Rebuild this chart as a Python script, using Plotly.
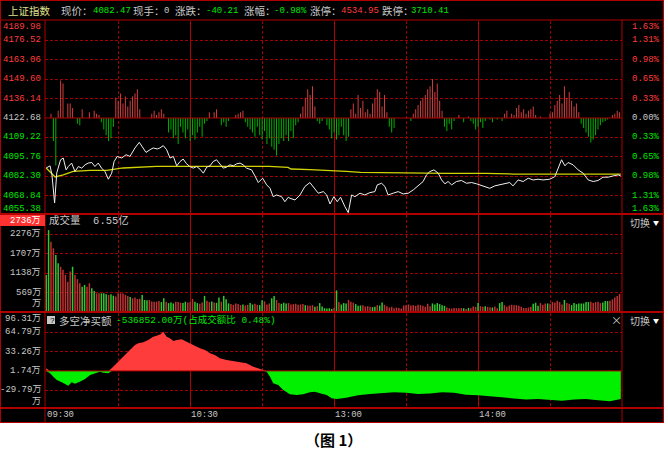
import plotly.graph_objects as go

W, H = 668, 464
PREV_CLOSE = 4122.68
NET_BASE = 1.74

# ---------------- data ----------------
main_ticks = [4189.98, 4176.52, 4163.06, 4149.60, 4136.14, 4122.68,
              4109.22, 4095.76, 4082.30, 4068.84, 4055.38]
pct_labels = ["1.63%", "1.31%", "0.98%", "0.65%", "0.33%", "0.00%",
              "0.33%", "0.65%", "0.98%", "1.31%", "1.63%"]
vol_ticks = [2276, 1707, 1138, 569]
vol_max_label = "2736万"
net_ticks = [96.31, 64.79, 33.26, 1.74, -29.79]
time_labels = ["09:30", "10:30", "13:00", "14:00"]
time_pos = [0, 60, 120, 180]

price_min = [0, 1.6, 2.4, 3.5, 4.4, 6, 7.1, 8.3, 9.2, 10.6, 12, 13.4, 14.8, 16.2, 17.5, 19, 20.3,
             21.7, 23.1, 24.5, 25.9, 27.3, 28.3, 29.6, 31.5, 33.3, 34.9, 37, 38.8, 40.2, 41.6,
             43.3, 44.6, 46.3, 47.4, 48.8, 50.2, 51.6, 53, 54.4, 55.8, 57.1, 58.5, 59.9, 61.3,
             62.7, 64.1, 65.5, 66.9, 68.3, 69.6, 71, 72.4, 73.8, 75.2, 76.6, 78, 79.4, 80.8,
             82.1, 83.5, 85.6, 87, 88.4, 90.2, 91.9, 93.3, 94.6, 96, 98.1, 99.5, 100.9, 101.6,
             103.7, 105.8, 107.8, 109.9, 111.3, 113.4, 115.5, 116.9, 118.3, 119.9, 121.3,
             122.7, 124.5, 125.9, 127.3, 128.7, 130.8, 132.8, 134.9, 137, 138, 139.8, 141.2,
             142.5, 144.6, 146.7, 148.8, 150.9, 153, 155, 157.1, 158.5, 159.9, 161.6, 163.4,
             164.8, 166.2, 167.5, 169, 171, 173.1, 175.2, 177.3, 179.4, 182.1, 184.9, 187,
             189.1, 191.2, 193.2, 194.6, 196.7, 198.8, 200.9, 203, 205, 207.1, 209.9, 212,
             213.4, 214.8, 216.2, 217.5, 219.6, 221.7, 223.8, 225.9, 228, 230, 232.1, 234.2,
             236.3, 238.4, 239.5]
price_val = [4088.0, 4089.5, 4083.2, 4063.7, 4084.6, 4093.7, 4094.9, 4086.7, 4089.0, 4091.4,
             4085.5, 4089.0, 4087.9, 4090.2, 4091.4, 4091.8, 4089.0, 4091.4, 4087.9, 4085.5,
             4080.2, 4084.4, 4092.5, 4096.0, 4094.9, 4097.2, 4096.0, 4101.9, 4105.8, 4102.5,
             4098.8, 4100.7, 4101.9, 4101.2, 4101.9, 4103.5, 4100.7, 4094.9, 4096.0, 4089.5,
             4092.5, 4094.2, 4090.9, 4089.0, 4087.9, 4089.0, 4087.2, 4084.4, 4088.6, 4089.5,
             4092.5, 4093.7, 4090.9, 4087.9, 4088.6, 4090.2, 4089.5, 4090.9, 4091.4, 4090.2,
             4087.9, 4086.7, 4082.5, 4077.9, 4080.9, 4076.3, 4073.9, 4068.1, 4069.3, 4068.1,
             4064.6, 4067.7, 4067.0, 4065.8, 4069.3, 4075.1, 4077.9, 4075.1, 4070.5, 4071.6,
             4069.3, 4063.0, 4068.1, 4064.6, 4067.7, 4061.2, 4057.0, 4069.3, 4068.1, 4070.5,
             4069.3, 4070.9, 4071.6, 4076.3, 4077.4, 4075.1, 4069.3, 4070.5, 4071.6, 4070.0,
             4070.5, 4072.8, 4075.6, 4078.6, 4083.2, 4085.5, 4086.7, 4084.4, 4079.7, 4077.0,
             4078.6, 4076.3, 4078.6, 4079.3, 4077.4, 4077.9, 4077.0, 4075.6, 4073.9, 4075.6,
             4076.3, 4077.0, 4077.9, 4075.6, 4079.7, 4078.6, 4080.9, 4079.7, 4080.2, 4079.7,
             4080.2, 4082.0, 4087.9, 4093.7, 4089.5, 4091.8, 4090.2, 4086.7, 4084.4, 4079.7,
             4078.6, 4079.3, 4081.6, 4081.6, 4082.5, 4083.2, 4082.47]

avg_min = [0, 3.7, 7.1, 11.3, 18.3, 25.2, 32.1, 39.1, 46, 60, 93, 100.8, 102, 110, 120, 125,
           131, 144, 167, 183, 195, 222, 239.5]
avg_val = [4088.0, 4081.8, 4083.3, 4085.6, 4086.3, 4086.3, 4088.0, 4088.7, 4089.1, 4089.1,
           4089.1, 4088.4, 4087.3, 4086.8, 4086.3, 4085.6, 4084.9, 4084.5, 4084.2, 4084.2,
           4083.8, 4083.8, 4083.8]

lead_val = [0, 0, 3, -16, -33, 5, 26, 24, 0, 10,
            10, 7, 0, -4, -5, 6, 0, 0, 4, 0,
            5, 3, 2, -3, -8, -12, -16, -14, -6, 14,
            12, 17, 10, 15, 8, 12, 15, 17, 20, 6,
            0, 0, 0, 0, 3, 5, 2, 4, 6, 3,
            0, -10, -8, -14, -12, -18, -6, -10, -14, -8,
            -16, -12, -15, -10, -6, -13, -4, -2, 4, 0,
            4, 6, 0, -5, -3, -6, -2, 0, 0, 2,
            3, 4, 5, -3, -6, -8, -10, -13, -6, -12,
            -15, -9, -18, -14, -20, -22, -26, -18, -14, -16,
            -12, -16, -9, -14, -5, -3, 3, 8, 14, 20,
            16, 22, 8, -2, -4, -2, 0, -5, -8, -14,
            -10, -15, -12, -6, -12, -16, -13, 6, 10, 3,
            16, 7, 12, 4, 6, 3, 10, 14, 20, 18,
            8, 16, 4, -6, -10, -7, 0, 0, 0, 0,
            0, 0, -2, 3, 6, 9, 12, 14, 16, 20,
            22, 27, 18, 24, 12, 5, -6, -9, -4, -8,
            -2, 0, 2, 0, -3, 0, 1, -2, -4, -8,
            -6, -3, -7, -2, 0, -1, -3, 0, -1, 0,
            -2, 3, 5, 0, 3, 2, 7, 9, 4, 6,
            3, 5, 6, 8, 2, 0, 1, 0, 0, 0,
            3, 4, 9, 12, 16, 10, 22, 14, 18, 12,
            8, 10, 4, -4, -7, -10, -13, -17, -15, -12,
            -8, -5, -3, -2, -1, 0, 2, 3, 5, 4,
            0]

vol_val = [1080, 2390, 2050, 1860, 1660, 1420, 1320, 1230, 1080, 880,
           1180, 1320, 1080, 960, 840, 740, 790, 740, 840, 690,
           610, 545, 545, 545, 545, 515, 495, 520, 475, 450,
           545, 545, 540, 500, 470, 440, 400, 420, 380, 390,
           495, 350, 340, 350, 310, 300, 300, 320, 290, 400,
           300, 260, 280, 250, 300, 290, 270, 260, 300, 280,
           290, 380, 300, 260, 240, 280, 470, 330, 290, 310,
           280, 270, 420, 300, 470, 370, 250, 230, 210, 250,
           230, 200, 220, 190, 210, 260, 220, 240, 210, 200,
           340, 310, 220, 250, 400, 470, 350, 260, 240, 270,
           250, 260, 220, 230, 240, 210, 220, 230, 200, 190,
           180, 200, 150, 170, 260, 160, 110, 100, 110, 90,
           120, 630, 290, 220, 260, 250, 350, 300, 270, 230,
           180, 190, 200, 160, 170, 150, 140, 150, 200, 190,
           280, 210, 170, 130, 150, 110, 130, 120, 100, 190,
           200, 220, 190, 200, 180, 210, 200, 180, 150, 240,
           170, 250, 220, 260, 230, 200, 180, 130, 110, 100,
           120, 110, 110, 120, 110, 90, 120, 110, 160, 150,
           260, 170, 150, 170, 150, 140, 130, 160, 110, 260,
           290, 200, 150, 190, 210, 200, 200, 180, 150, 120,
           120, 130, 150, 240, 270, 180, 260, 210, 250, 250,
           240, 290, 280, 330, 290, 220, 350, 260, 240, 200,
           260, 230, 250, 250, 250, 290, 290, 300, 260, 290,
           300, 260, 280, 320, 320, 330, 370, 420, 470, 530]
vol_dir = ("ggrrggrrrr" "rgrrrggrrg" "grrgggrggr" "rrrrrgrrrr" "gggrrrrrgg" "rgggrrrggr"
           "rrggrrgrrg" "rggrgggrrr" "rrgrrggrrg" "grrrggrrgg" "grrrrrrrgr" "rrgrgggggg"
           "rgrgggrrrg" "ggrrrrggrg" "grrrrrrrrr" "rrrrrrrrrr" "rggggggrrr" "rrrrgrgrrr"
           "grrgrrgrrg" "grrrrrrrrr" "rrrgggrrrg" "rrrrrrgrrg" "gggggggrrr" "rrgggrrrrr")

net_min = [0, 1.6, 3, 4.4, 6.5, 8.5, 9.2, 10.6, 12, 14, 16.2, 18.3, 20.3, 22.4, 23.8, 25.9,
           27.3, 28.7, 30.8, 32.8, 34.9, 37, 38.4, 40.5, 42.5, 44.6, 46, 47.7, 48.8, 50.2,
           51.6, 53, 54.4, 56.5, 58.5, 60.6, 62.7, 64.1, 66.2, 68.3, 70.3, 72.4, 75.2, 78,
           80.8, 83.5, 86.3, 88.4, 90.5, 91.9, 93.3, 94.6, 96.7, 98.8, 101.6, 104.4, 107.1,
           109.9, 112, 114.1, 116.9, 119, 121, 125, 130, 135, 140, 145, 150, 155, 160, 165,
           170, 175, 180, 185, 190, 195, 200, 205, 210, 215, 220, 225, 230, 235, 239.5]
net_val = [6, -2.2, -7.7, -13.1, -16.9, -20.1, -22.4, -16.9, -19.2, -15.9, -11.5, -5, -2.2,
           0.4, -1.2, -2.2, 6, 11.4, 19.5, 27.7, 35.9, 44, 46.8, 48.4, 52.2, 57.6, 59.2, 61.5,
           65.8, 57.6, 55, 50.6, 52.2, 53.3, 49.4, 45.2, 41.3, 38.6, 35.9, 30.5, 27.7, 22.3,
           19.5, 17.9, 16.8, 14.1, 8.6, 6, 3.2, 0.4, -7.7, -18.5, -21.3, -29.5, -36.5, -37.6,
           -36.5, -33.2, -32.2, -34.8, -37.6, -43, -44.1, -42, -38, -36, -35, -33, -34, -36,
           -35, -33, -34, -37, -38, -40, -42, -44, -45, -44, -46, -47, -45, -44, -46, -48, -44]

header_parts = [("上证指数", "#e0e08c", 6), ("现价：", "#c8c8c8", 59), ("4082.47", "#00e600", 91),
                ("现手：", "#c8c8c8", 131), ("0", "#c8c8c8", 162), ("涨跌：", "#c8c8c8", 173),
                ("-40.21", "#00e600", 204), ("涨幅：", "#c8c8c8", 242), ("-0.98%", "#00e600", 272),
                ("涨停：", "#c8c8c8", 308), ("4534.95", "#ff3c3c", 339), ("跌停：", "#c8c8c8", 380),
                ("3710.41", "#00e600", 409)]

# ---------------- styling ----------------
BG = "#000000"
FRAME = "#b00000"
GRID = "#a00000"
UP_TXT = "#ff3c3c"
DN_TXT = "#00e600"
GRAY = "#c8c8c8"
NUM_FONT = "Liberation Mono, DejaVu Sans Mono, monospace"
CJK_FONT = "Noto Sans CJK SC, sans-serif"
MIX_FONT = "Liberation Mono, Noto Sans CJK SC, monospace"
DASH = "3px,2px"

X_LEFT, X_RIGHT = 45, 622


def fx(px):
    return px / W


def fy(py):
    return 1 - py / H


fig = go.Figure()

# main panel: breadth bars around previous close
fig.add_trace(go.Bar(
    x=list(range(len(lead_val))), y=lead_val, base=PREV_CLOSE, width=0.42,
    marker=dict(color=["#d23c3c" if v > 0 else "#00b000" for v in lead_val], line=dict(width=0)),
    xaxis="x", yaxis="y", hoverinfo="skip"))
# average line
fig.add_trace(go.Scatter(x=avg_min, y=avg_val, mode="lines", line=dict(color="#d2d200", width=1.3),
                         xaxis="x", yaxis="y", hoverinfo="skip"))
# price line
fig.add_trace(go.Scatter(x=price_min, y=price_val, mode="lines", line=dict(color="#f0f0f0", width=1),
                         xaxis="x", yaxis="y", hoverinfo="skip"))

# volume
fig.add_trace(go.Bar(
    x=list(range(len(vol_val))), y=vol_val, width=0.62,
    marker=dict(color=["#c03232" if d == "r" else "#32c832" for d in vol_dir], line=dict(width=0)),
    xaxis="x2", yaxis="y2", hoverinfo="skip"))

# net buy area
net_pos = [max(v, NET_BASE) for v in net_val]
net_neg = [min(v, NET_BASE) for v in net_val]
base_line = [NET_BASE] * len(net_val)
fig.add_trace(go.Scatter(x=net_min, y=base_line, mode="lines", line=dict(width=0),
                         xaxis="x3", yaxis="y3", hoverinfo="skip"))
fig.add_trace(go.Scatter(x=net_min, y=net_pos, mode="lines", line=dict(width=0), fill="tonexty",
                         fillcolor="#ff3c3c", xaxis="x3", yaxis="y3", hoverinfo="skip"))
fig.add_trace(go.Scatter(x=net_min, y=base_line, mode="lines", line=dict(width=0),
                         xaxis="x3", yaxis="y3", hoverinfo="skip"))
fig.add_trace(go.Scatter(x=net_min, y=net_neg, mode="lines", line=dict(width=0), fill="tonexty",
                         fillcolor="#00f000", xaxis="x3", yaxis="y3", hoverinfo="skip"))

xcommon = dict(range=[-0.5, 240], showticklabels=False, showline=False, zeroline=False, ticks="",
               tickvals=[60, 120, 180], showgrid=True, gridcolor=FRAME, gridwidth=1,
               minor=dict(tickvals=[30, 90, 150, 210], showgrid=True, gridcolor=GRID,
                          griddash=DASH, gridwidth=1, ticks=""),
               domain=[fx(X_LEFT), fx(X_RIGHT)], fixedrange=True)
ycommon = dict(showticklabels=False, showline=False, zeroline=False, ticks="", showgrid=True,
               gridcolor=GRID, griddash=DASH, gridwidth=1, fixedrange=True)

grid_main = [v for v in main_ticks[1:-1] if v != PREV_CLOSE]

fig.update_layout(
    width=W, height=H, margin=dict(l=0, r=0, t=0, b=0),
    paper_bgcolor="#ffffff", plot_bgcolor=BG, showlegend=False, barmode="overlay",
    xaxis=dict(anchor="y", **xcommon),
    xaxis2=dict(anchor="y2", matches="x", **xcommon),
    xaxis3=dict(anchor="y3", matches="x", **xcommon),
    yaxis=dict(anchor="x", domain=[fy(215), fy(21)], range=[4055.38, 4189.98], tickvals=grid_main, **ycommon),
    yaxis2=dict(anchor="x2", domain=[fy(312), fy(215)], range=[0, 569 * 97 / 19.5], tickvals=vol_ticks, **ycommon),
    yaxis3=dict(anchor="x3", domain=[fy(408), fy(313)], range=[96.31 - 95 * 31.52 / 19.3, 96.31],
                tickvals=[64.79, 33.26, -29.79], **ycommon),
)

shapes = []
# black canvas
shapes.append(dict(type="rect", xref="paper", yref="paper", x0=0, x1=fx(664), y0=fy(423), y1=1,
                   fillcolor=BG, line=dict(width=0), layer="below"))


def hline(py, x0=0, x1=664, w=1, color=FRAME):
    shapes.append(dict(type="line", xref="paper", yref="paper", x0=fx(x0), x1=fx(x1), y0=fy(py), y1=fy(py),
                       line=dict(color=color, width=w)))


def vline(px, y0, y1, w=1, color=FRAME):
    shapes.append(dict(type="line", xref="paper", yref="paper", x0=fx(px), x1=fx(px), y0=fy(y0), y1=fy(y1),
                       line=dict(color=color, width=w)))


hline(0.5)
hline(20)
hline(214, w=2)
hline(312, w=2)
hline(408, w=2)
hline(422.5)
vline(0.5, 0, 423)
vline(663.5, 0, 423)
vline(X_LEFT, 20, 423)
vline(X_RIGHT, 20, 423)
# previous close / net baseline
shapes.append(dict(type="line", xref="x", yref="y", x0=-0.5, x1=240, y0=PREV_CLOSE, y1=PREV_CLOSE,
                   line=dict(color=FRAME, width=1)))
shapes.append(dict(type="line", xref="x3", yref="y3", x0=-0.5, x1=240, y0=NET_BASE, y1=NET_BASE,
                   line=dict(color=FRAME, width=1)))
# volume max label box
shapes.append(dict(type="rect", xref="paper", yref="paper", x0=fx(0), x1=fx(45), y0=fy(226), y1=fy(215),
                   fillcolor="#ff3232", line=dict(width=0)))
# help icon
shapes.append(dict(type="rect", xref="paper", yref="paper", x0=fx(47), x1=fx(55), y0=fy(324), y1=fy(316),
                   fillcolor="#c8c8c8", line=dict(width=0)))

anns = []


def txt(text, px, py, color, size=9, font=NUM_FONT, xanchor="left", xref="paper", yref="paper", y=None, yshift=0):
    anns.append(dict(text=text, x=fx(px), xref=xref, y=(fy(py) if y is None else y), yref=yref,
                     xanchor=xanchor, yanchor="middle", showarrow=False, yshift=yshift,
                     font=dict(color=color, size=size, family=font)))


# header
for t, c, x in header_parts:
    is_cjk = any(ord(ch) > 127 for ch in t) and t[0] not in "-0123456789"
    txt(t, x, 11, c, size=10.5 if is_cjk else 9, font=CJK_FONT if is_cjk else NUM_FONT)

# main panel labels
n = len(main_ticks)
for i, (v, p) in enumerate(zip(main_ticks, pct_labels)):
    c = UP_TXT if v > PREV_CLOSE else (GRAY if v == PREV_CLOSE else DN_TXT)
    shift = -6 if i == 0 else (6 if i == n - 1 else 0)
    txt(f"{v:.2f}", 43, 0, c, xanchor="right", yref="y", y=v, yshift=shift)
    txt(p, 662, 0, c, xanchor="right", yref="y", y=v, yshift=shift)

# volume labels
txt(vol_max_label, 43, 220.5, "#ffffff", font=MIX_FONT, xanchor="right")
for v in vol_ticks:
    txt(f"{v}万", 43, 0, GRAY, font=MIX_FONT, xanchor="right", yref="y2", y=v)
txt("万", 43, 304, GRAY, font=MIX_FONT, xanchor="right")
txt("成交量  6.55亿", 47, 221, GRAY, size=10.5, font=MIX_FONT)
txt("切换", 628, 222, GRAY, size=10, font=CJK_FONT)
txt("▼", 651, 222, "#ffffff", size=6, font=CJK_FONT)

# net labels
for i, v in enumerate(net_ticks):
    shift = -6 if i == 0 else 0
    txt(f"{v:.2f}万", 43, 0, GRAY, font=MIX_FONT, xanchor="right", yref="y3", y=v, yshift=shift)
txt("万", 43, 402, GRAY, font=MIX_FONT, xanchor="right")
txt("?", 48, 320, "#000000", size=8, font=NUM_FONT)
txt("多空净买额", 57, 320, GRAY, size=10.5, font=CJK_FONT)
txt("-536852.00万(占成交额比 0.48%)", 114, 320, DN_TXT, size=9.5, font=MIX_FONT)
txt("×", 609, 320, GRAY, size=11, font=CJK_FONT)
txt("切换", 628, 320, GRAY, size=10, font=CJK_FONT)
txt("▼", 651, 320, "#ffffff", size=6, font=CJK_FONT)

# time axis
for lab, m in zip(time_labels, time_pos):
    anns.append(dict(text=lab, x=m - 0.5, xref="x3", y=fy(415), yref="paper", xanchor="left",
                     yanchor="middle", showarrow=False, font=dict(color=GRAY, size=9, family=NUM_FONT)))

# caption
txt("<b>（图 1）</b>", 333, 439, "#000000", size=15, font=CJK_FONT, xanchor="center")

fig.update_layout(shapes=shapes, annotations=anns)
fig.write_html("out.html", config={"displayModeBar": False, "staticPlot": True},
               post_script="document.body.style.margin='0px';document.body.style.padding='0px';")
